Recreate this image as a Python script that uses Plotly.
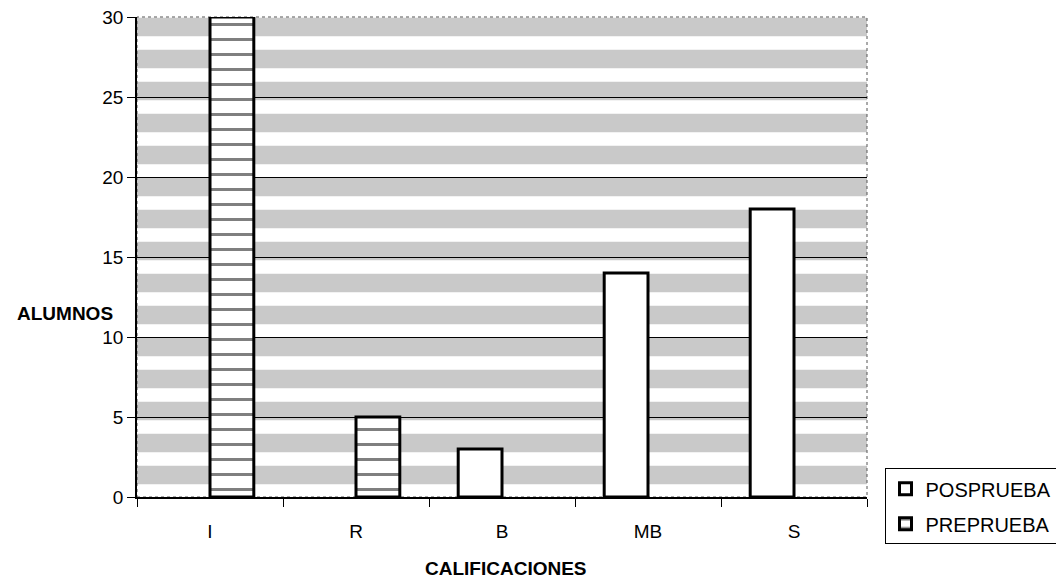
import plotly.graph_objects as go

# Calificaciones por categoría
categorias = ["I", "R", "B", "MB", "S"]
posprueba = [None, None, 3, 14, 18]
preprueba = [30, 5, None, None, None]
ticks_y = [0, 5, 10, 15, 20, 25, 30]

FONT = "Liberation Sans, Arial, sans-serif"

fig = go.Figure()
fig.add_trace(go.Bar(
    name="POSPRUEBA", x=categorias, y=posprueba, legendgroup="pos",
    marker=dict(color="white", line=dict(color="black", width=3)),
))
fig.add_trace(go.Bar(
    name="PREPRUEBA", x=categorias, y=preprueba, legendgroup="pre",
    marker=dict(
        color="white",
        line=dict(color="black", width=3),
        pattern=dict(shape="-", fgcolor="black", bgcolor="white", size=15, solidity=0.2),
    ),
))

# Franjas grises horizontales del fondo del área de trazado
shapes = []
for k in range(15):
    shapes.append(dict(
        type="rect", xref="paper", yref="y", layer="below",
        x0=0, x1=1, y0=2 * k + 0.8, y1=min(2 * k + 1.95, 30),
        fillcolor="#c9c9c9", line=dict(width=0),
    ))
# Borde punteado del área de trazado
shapes.append(dict(
    type="rect", xref="paper", yref="paper", x0=0, x1=1, y0=0, y1=1,
    line=dict(color="#555555", width=1, dash="dot"), layer="below",
))

fig.update_layout(
    width=1056, height=579,
    margin=dict(l=137, r=189, t=17, b=82, autoexpand=False),
    paper_bgcolor="white", plot_bgcolor="white",
    barmode="group", bargap=0.4, bargroupgap=0,
    font=dict(family=FONT, size=19, color="black"),
    shapes=shapes,
    showlegend=True,
    legend=dict(
        x=1.024, xanchor="left", y=0.06, yanchor="top",
        bordercolor="black", borderwidth=1, bgcolor="white",
        font=dict(family=FONT, size=20, color="black"),
        itemwidth=30, traceorder="grouped", tracegroupgap=6,
    ),
    annotations=[
        dict(text="<b>ALUMNOS</b>", xref="paper", yref="paper",
             x=-0.03, y=0.383, xanchor="right", yanchor="middle",
             showarrow=False, font=dict(family=FONT, size=19)),
        dict(text="<b>CALIFICACIONES</b>", xref="paper", yref="paper",
             x=0.505, y=-0.148, xanchor="center", yanchor="middle",
             showarrow=False, font=dict(family=FONT, size=19)),
    ],
)

fig.update_xaxes(
    showline=True, linecolor="black", linewidth=1.5,
    ticks="outside", tickson="boundaries", ticklen=8, tickcolor="black",
    showgrid=False, ticklabelstandoff=16,
)
fig.update_yaxes(
    range=[0, 30], tickvals=ticks_y,
    showline=True, linecolor="black", linewidth=1.5,
    ticks="outside", ticklen=8, tickcolor="black",
    showgrid=True, gridcolor="black", gridwidth=1,
    zeroline=False,
)

fig.write_html("out.html")
